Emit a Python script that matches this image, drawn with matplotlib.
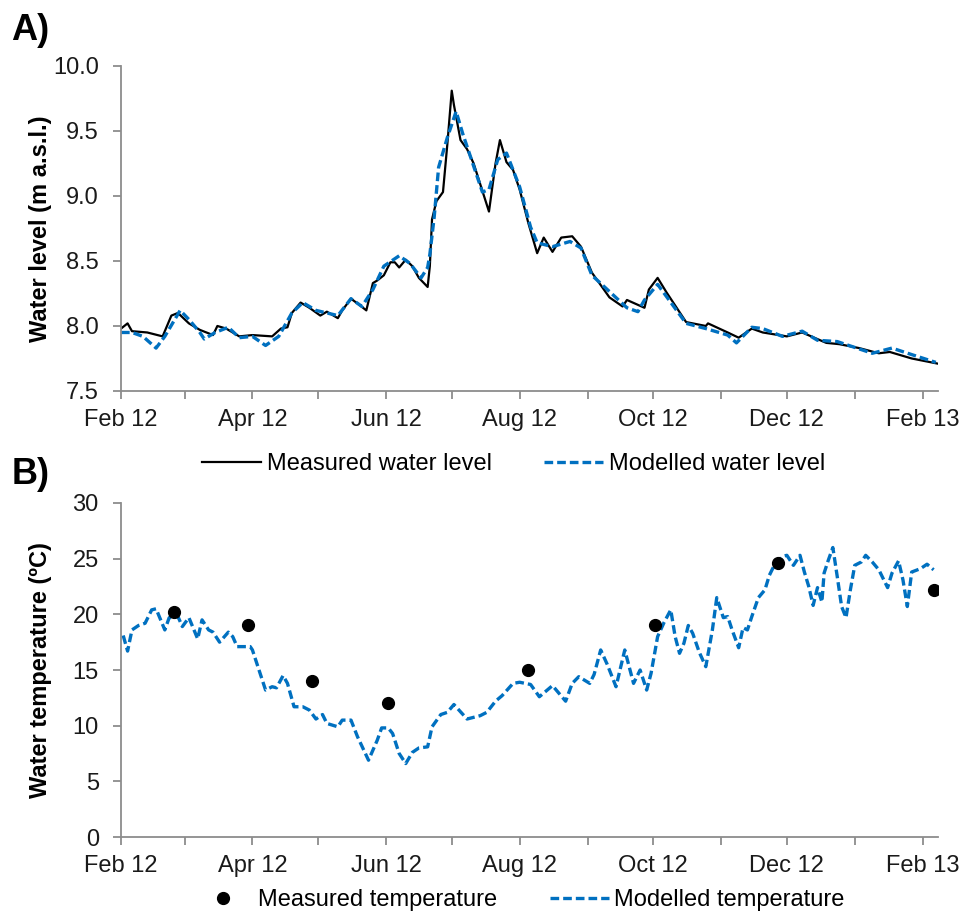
import matplotlib
matplotlib.use("Agg")
import matplotlib.pyplot as plt
import matplotlib.dates as mdates
import pandas as pd
from matplotlib.lines import Line2D

plt.rcParams['font.family'] = ['Liberation Sans', 'DejaVu Sans']

start = pd.Timestamp('2012-02-01')

# A) water level, days since 1 Feb 2012
meas_lvl_day = [0, 3, 5, 12, 19, 23, 26, 31, 36, 42, 44, 48, 54, 60, 69, 73, 76, 78, 82, 86,
                91, 94, 99, 101, 105, 109, 112, 115, 117, 120, 123, 125, 127, 130, 133, 136,
                140, 141, 142, 144, 147, 149, 151, 152, 155, 158, 161, 168, 171, 173, 176,
                179, 182, 186, 190, 193, 197, 201, 206, 210, 215, 223, 229, 231, 239, 241,
                245, 249, 258, 267, 268, 277, 282, 288, 293, 304, 311, 322, 328, 337, 346,
                351, 361, 373]
meas_lvl = [7.98, 8.02, 7.96, 7.95, 7.92, 8.08, 8.10, 8.02, 7.97, 7.93, 8.00, 7.98, 7.92, 7.93,
            7.92, 7.98, 7.99, 8.10, 8.18, 8.14, 8.08, 8.11, 8.06, 8.12, 8.21, 8.16, 8.12, 8.33,
            8.35, 8.39, 8.49, 8.49, 8.45, 8.51, 8.46, 8.37, 8.30, 8.46, 8.82, 8.96, 9.03, 9.40,
            9.81, 9.70, 9.43, 9.36, 9.25, 8.88, 9.25, 9.43, 9.26, 9.20, 9.05, 8.79, 8.56, 8.68,
            8.57, 8.68, 8.69, 8.61, 8.41, 8.22, 8.15, 8.20, 8.14, 8.28, 8.37, 8.26, 8.03, 8.00,
            8.02, 7.95, 7.91, 7.98, 7.95, 7.92, 7.95, 7.87, 7.86, 7.83, 7.79, 7.80, 7.75, 7.71]

mod_lvl_day = [0, 5, 10, 16, 20, 27, 31, 36, 38, 43, 49, 54, 60, 66, 72, 78, 83, 89, 99, 105,
               110, 115, 120, 127, 132, 137, 140, 141, 143, 145, 149, 153, 156, 160, 165, 168,
               172, 176, 182, 187, 190, 197, 205, 210, 215, 231, 236, 239, 245, 258, 267, 277,
               281, 288, 293, 302, 311, 318, 327, 343, 352, 361, 372]
mod_lvl = [7.95, 7.95, 7.92, 7.83, 7.92, 8.12, 8.05, 7.95, 7.90, 7.95, 7.99, 7.91, 7.92, 7.85,
           7.92, 8.10, 8.18, 8.12, 8.08, 8.21, 8.15, 8.28, 8.46, 8.54, 8.48, 8.37, 8.45, 8.55,
           8.84, 9.22, 9.45, 9.65, 9.48, 9.28, 9.03, 9.05, 9.28, 9.33, 9.07, 8.76, 8.64, 8.61,
           8.65, 8.60, 8.39, 8.14, 8.11, 8.20, 8.32, 8.02, 7.98, 7.93, 7.87, 7.99, 7.98, 7.92,
           7.96, 7.89, 7.88, 7.79, 7.83, 7.78, 7.72]

# B) water temperature
meas_t_day = [24, 58, 87, 122, 186, 244, 300, 371]
meas_t = [20.2, 19.0, 14.0, 12.0, 15.0, 19.0, 24.6, 22.2]

mod_t_day = [1, 3, 5, 8, 11, 14, 16, 20, 22, 26, 28, 31, 35, 37, 40, 42, 45, 49, 51, 53, 57,
             59, 60, 63, 66, 69, 71, 74, 76, 79, 83, 86, 89, 92, 94, 99, 101, 105, 108, 113,
             117, 119, 122, 124, 127, 130, 133, 136, 140, 142, 146, 149, 152, 158, 164, 167,
             171, 174, 179, 182, 187, 191, 197, 203, 206, 209, 214, 216, 219, 222, 226, 230,
             234, 237, 240, 242, 245, 248, 251, 253, 255, 257, 259, 261, 264, 267, 270, 272,
             275, 277, 279, 282, 284, 286, 288, 291, 294, 296, 298, 302, 304, 307, 310, 312,
             314, 316, 318, 320, 321, 323, 325, 327, 329, 331, 333, 335, 338, 340, 343, 346,
             350, 352, 355, 357, 359, 361, 365, 368, 371]
mod_t = [18.1, 16.7, 18.6, 19.0, 19.2, 20.4, 20.5, 18.6, 19.7, 19.8, 18.9, 19.7, 17.8, 19.5,
         18.6, 18.4, 17.5, 18.4, 18.0, 17.1, 17.1, 17.1, 16.8, 15.0, 13.2, 13.5, 13.4, 14.5,
         13.8, 11.7, 11.7, 11.4, 10.6, 11.0, 10.2, 9.9, 10.5, 10.5, 9.0, 6.9, 8.7, 9.8, 9.8,
         9.3, 7.5, 6.6, 7.6, 8.0, 8.1, 9.9, 11.0, 11.2, 11.9, 10.6, 10.9, 11.2, 12.2, 12.7,
         13.8, 13.9, 13.7, 12.6, 13.6, 12.2, 13.8, 14.4, 13.8, 14.6, 16.8, 15.5, 13.5, 16.8,
         13.8, 15.0, 13.2, 14.7, 18.0, 19.3, 20.4, 18.0, 16.5, 17.4, 19.0, 18.3, 16.6, 15.3,
         18.6, 21.5, 19.7, 19.8, 18.6, 17.0, 18.8, 18.6, 19.8, 21.5, 22.2, 23.5, 24.3, 25.2,
         25.3, 24.4, 25.3, 23.8, 22.5, 20.8, 22.4, 21.1, 23.7, 24.9, 26.0, 23.4, 20.7, 19.7,
         22.2, 24.4, 24.7, 25.3, 24.7, 24.0, 22.4, 23.7, 24.8, 23.1, 20.7, 23.8, 24.1, 24.5,
         24.0]


def to_dates(days):
    return start + pd.to_timedelta(days, unit='D')


blue = '#0070C0'
gray = '#8c8c8c'
fs = 17

fig = plt.figure(figsize=(9.65, 9.15), dpi=100)
axA = fig.add_axes([0.1254, 0.5727, 0.8466, 0.3552])
axB = fig.add_axes([0.1254, 0.0852, 0.8466, 0.3651])


def style(ax):
    for s in ['top', 'right']:
        ax.spines[s].set_visible(False)
    for s in ['left', 'bottom']:
        ax.spines[s].set_color(gray)
        ax.spines[s].set_linewidth(1.3)
    ax.xaxis.set_major_locator(mdates.MonthLocator(bymonth=[2, 4, 6, 8, 10, 12]))
    ax.xaxis.set_minor_locator(mdates.MonthLocator())
    ax.xaxis.set_major_formatter(mdates.DateFormatter('%b %y'))
    ax.set_xlim(start, pd.Timestamp('2013-02-08'))
    ax.tick_params(which='both', direction='out', color=gray, width=1.3, length=6,
                   labelsize=fs, labelcolor='#1a1a1a')
    ax.tick_params(axis='x', which='both', pad=7)
    ax.tick_params(axis='y', pad=10)


axA.plot(to_dates(meas_lvl_day), meas_lvl, color='black', lw=1.6)
axA.plot(to_dates(mod_lvl_day), mod_lvl, color=blue, lw=2.4, dashes=(2.6, 1.2))
style(axA)
axA.set_ylim(7.5, 10.0)
axA.set_yticks([7.5, 8.0, 8.5, 9.0, 9.5, 10.0])
axA.yaxis.set_major_formatter(plt.FormatStrFormatter('%.1f'))
axA.set_ylabel('Water level (m a.s.l.)', fontsize=fs, fontweight='bold')
axA.yaxis.set_label_coords(-0.085, 0.5)

axB.plot(to_dates(mod_t_day), mod_t, color=blue, lw=2.4, dashes=(2.6, 1.2))
axB.plot(to_dates(meas_t_day), meas_t, 'o', color='black', ms=8.5, ls='none')
style(axB)
axB.set_ylim(0, 30)
axB.set_yticks(range(0, 31, 5))
axB.set_ylabel('Water temperature (ºC)', fontsize=fs, fontweight='bold')
axB.yaxis.set_label_coords(-0.085, 0.5)

fig.text(0.012, 0.967, 'A)', fontsize=26, fontweight='bold', va='center')
fig.text(0.012, 0.481, 'B)', fontsize=26, fontweight='bold', va='center')

hA = [Line2D([], [], color='black', lw=1.6),
      Line2D([], [], color=blue, lw=2.4, dashes=(2.6, 1.2))]
fig.legend(hA, ['Measured water level', 'Modelled water level'], loc='center',
           bbox_to_anchor=(0.532, 0.493), ncol=2, frameon=False, fontsize=fs,
           handlelength=2.5, handletextpad=0.25, columnspacing=2.2)

hB = [Line2D([], [], color='black', marker='o', ms=8.5, ls='none'),
      Line2D([], [], color=blue, lw=2.4, dashes=(2.6, 1.2))]
fig.legend(hB, ['Measured temperature', 'Modelled temperature'], loc='center',
           bbox_to_anchor=(0.538, 0.016), ncol=2, frameon=False, fontsize=fs,
           handlelength=2.5, handletextpad=0.25, columnspacing=2.2)

fig.savefig('out.png', dpi=100)
